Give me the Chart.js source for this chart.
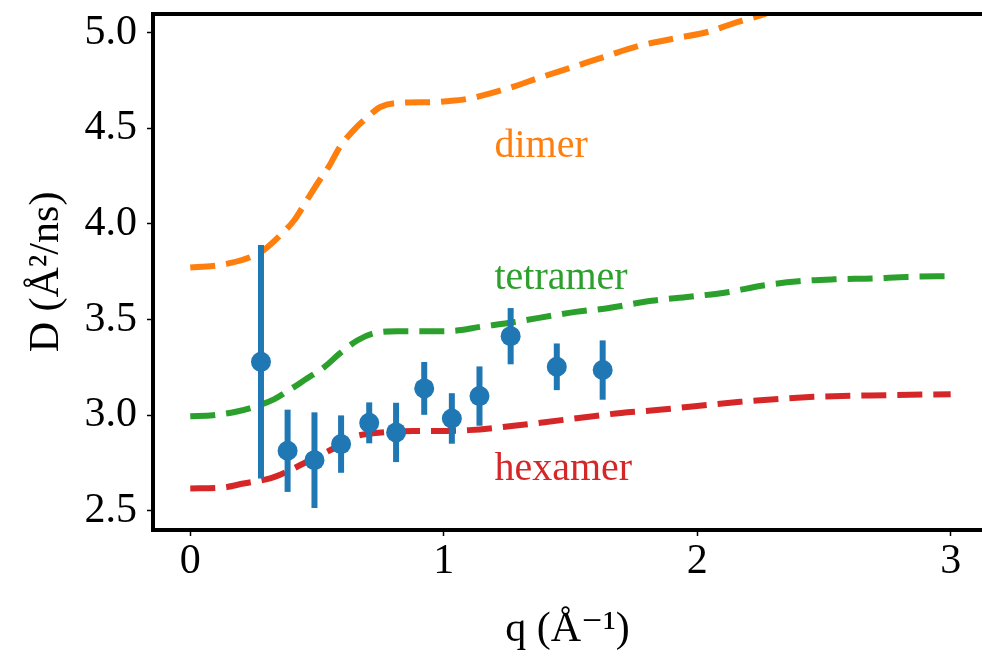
<!DOCTYPE html>
<html><head><meta charset="utf-8">
<script src="https://cdn.jsdelivr.net/npm/chart.js@4.4.1/dist/chart.umd.min.js"></script>
<style>html,body{margin:0;padding:0;background:#fff;}canvas{display:block;}</style>
</head><body>
<canvas id="c" width="982" height="656"></canvas>
<script>
// ---- data ----
const dimerQ = [0, 0.09, 0.16, 0.24, 0.29, 0.355, 0.41, 0.46, 0.51, 0.55, 0.59, 0.645, 0.70, 0.75, 0.815, 0.95, 1.01, 1.10, 1.25, 1.38, 1.51, 1.64, 1.77, 1.91, 2.04, 2.14, 2.25, 2.4, 2.6, 2.8, 3.0];
const dimerD = [3.772, 3.78, 3.796, 3.828, 3.863, 3.94, 4.019, 4.124, 4.228, 4.307, 4.402, 4.49, 4.559, 4.611, 4.632, 4.636, 4.641, 4.655, 4.707, 4.765, 4.82, 4.876, 4.93, 4.969, 5.003, 5.047, 5.09, 5.16, 5.22, 5.26, 5.29];
const tetramerQ = [0, 0.09, 0.18, 0.26, 0.33, 0.39, 0.46, 0.53, 0.59, 0.66, 0.72, 0.815, 0.99, 1.07, 1.13, 1.26, 1.52, 1.64, 1.82, 1.97, 2.12, 2.26, 2.40, 2.54, 2.69, 2.83, 3.0];
const tetramerD = [2.995, 3.0, 3.018, 3.047, 3.083, 3.131, 3.192, 3.253, 3.323, 3.392, 3.427, 3.439, 3.439, 3.445, 3.459, 3.483, 3.54, 3.558, 3.598, 3.619, 3.643, 3.678, 3.70, 3.71, 3.715, 3.723, 3.727];
const hexamerQ = [0, 0.13, 0.21, 0.315, 0.38, 0.46, 0.565, 0.645, 0.72, 0.88, 1.01, 1.10, 1.33, 1.59, 1.70, 1.84, 2.17, 2.46, 2.75, 3.0];
const hexamerD = [2.617, 2.622, 2.643, 2.67, 2.704, 2.757, 2.826, 2.887, 2.905, 2.918, 2.918, 2.922, 2.953, 2.995, 3.012, 3.027, 3.07, 3.096, 3.105, 3.11];
const expQ = [0.279, 0.384, 0.490, 0.595, 0.706, 0.812, 0.923, 1.032, 1.141, 1.264, 1.446, 1.627];
const expD = [3.279, 2.814, 2.765, 2.849, 2.960, 2.910, 3.140, 2.983, 3.100, 3.413, 3.253, 3.236];
const expErr = [0.61, 0.215, 0.25, 0.15, 0.107, 0.155, 0.138, 0.132, 0.155, 0.147, 0.122, 0.155];
const xTicks = [0, 1, 2, 3];
const yTicks = [2.5, 3.0, 3.5, 4.0, 4.5, 5.0];
const curveNames = ['dimer', 'tetramer', 'hexamer'];
const curveNameQ = [1.2, 1.2, 1.2];
const curveNameD = [4.35, 3.66, 2.66];

const COLORS = {exp:'#1f77b4', dimer:'#ff7f0e', tetramer:'#2ca02c', hexamer:'#d62728'};
const FONT = "'Liberation Serif', 'DejaVu Serif', serif";
const toXY = (qs, ds) => qs.map((q, i) => ({x: q, y: ds[i]}));

function curve(label, qs, ds, color) {
  return {
    label, data: toXY(qs, ds), borderColor: color, backgroundColor: color,
    borderWidth: 6, borderDash: [25, 11], borderCapStyle: 'butt',
    pointRadius: 0, cubicInterpolationMode: 'monotone', fill: false, clip: 0
  };
}

const errorBars = {
  id: 'errorBars',
  beforeDatasetDraw(chart, args) {
    if (args.index !== 0) return;
    const {ctx, chartArea: a, scales: {x, y}} = chart;
    ctx.save();
    ctx.beginPath(); ctx.rect(a.left, a.top, a.right - a.left, a.bottom - a.top); ctx.clip();
    ctx.strokeStyle = COLORS.exp; ctx.lineWidth = 6; ctx.lineCap = 'butt';
    expQ.forEach((q, i) => {
      const px = x.getPixelForValue(q);
      ctx.beginPath();
      ctx.moveTo(px, y.getPixelForValue(expD[i] - expErr[i]));
      ctx.lineTo(px, y.getPixelForValue(expD[i] + expErr[i]));
      ctx.stroke();
    });
    ctx.restore();
  }
};

const curveText = {
  id: 'curveText',
  afterDatasetsDraw(chart) {
    const {ctx, scales: {x, y}} = chart;
    const cols = [COLORS.dimer, COLORS.tetramer, COLORS.hexamer];
    ctx.save();
    ctx.font = "40px " + FONT; ctx.textAlign = 'left'; ctx.textBaseline = 'alphabetic';
    curveNames.forEach((t, i) => {
      ctx.fillStyle = cols[i];
      ctx.fillText(t, x.getPixelForValue(curveNameQ[i]), y.getPixelForValue(curveNameD[i]));
    });
    ctx.restore();
  }
};

const frame = {
  id: 'frame',
  afterDraw(chart) {
    const {ctx, chartArea: a} = chart;
    const edge = chart.width + 4;
    ctx.save();
    ctx.strokeStyle = '#000'; ctx.lineWidth = 4; ctx.lineCap = 'square';
    ctx.beginPath();
    ctx.moveTo(edge, a.top); ctx.lineTo(a.left, a.top);
    ctx.lineTo(a.left, a.bottom); ctx.lineTo(edge, a.bottom);
    ctx.stroke();
    ctx.restore();
  }
};

new Chart(document.getElementById('c'), {
  type: 'line',
  data: {
    datasets: [
      {label: 'data', data: toXY(expQ, expD), showLine: false, pointRadius: 10, pointHoverRadius: 10,
       pointBackgroundColor: COLORS.exp, pointBorderWidth: 0, backgroundColor: COLORS.exp, borderColor: COLORS.exp},
      curve('dimer', dimerQ, dimerD, COLORS.dimer),
      curve('tetramer', tetramerQ, tetramerD, COLORS.tetramer),
      curve('hexamer', hexamerQ, hexamerD, COLORS.hexamer)
    ]
  },
  options: {
    responsive: false, animation: false, devicePixelRatio: 1,
    layout: {autoPadding: false, padding: {top: 14, right: 0, left: 0, bottom: 0}},
    plugins: {legend: {display: false}, tooltip: {enabled: false}},
    scales: {
      x: {
        type: 'linear', min: -0.147, max: 3.1235,
        afterBuildTicks: s => { s.ticks = xTicks.map(v => ({value: v})); },
        afterFit: s => { s.height = 126; s.paddingLeft = 0; s.paddingRight = 0; },
        grid: {drawOnChartArea: false, drawTicks: true, tickLength: 6, tickWidth: 1.5, tickColor: '#000'},
        border: {display: false},
        ticks: {color: '#000', padding: 1, font: {family: FONT, size: 42, lineHeight: 1.2}, callback: v => String(v)},
        title: {display: true, text: 'q (Å⁻¹)', color: '#000', font: {family: FONT, size: 42, lineHeight: 1.2}, padding: {top: 0, bottom: 1}}
      },
      y: {
        type: 'linear', min: 2.40, max: 5.097,
        afterBuildTicks: s => { s.ticks = yTicks.map(v => ({value: v})); },
        afterFit: s => { s.width = 153; s.paddingTop = 0; s.paddingBottom = 0; },
        grid: {drawOnChartArea: false, drawTicks: true, tickLength: 6, tickWidth: 1.5, tickColor: '#000'},
        border: {display: false},
        ticks: {color: '#000', padding: 10, font: {family: FONT, size: 42, lineHeight: 0.6}, callback: v => v.toFixed(1)},
        title: {display: true, text: 'D (Å²/ns)', color: '#000', font: {family: FONT, size: 42, lineHeight: 1.2}, padding: {top: 22, bottom: 0}}
      }
    }
  },
  plugins: [errorBars, curveText, frame]
});
</script>
</body></html>
